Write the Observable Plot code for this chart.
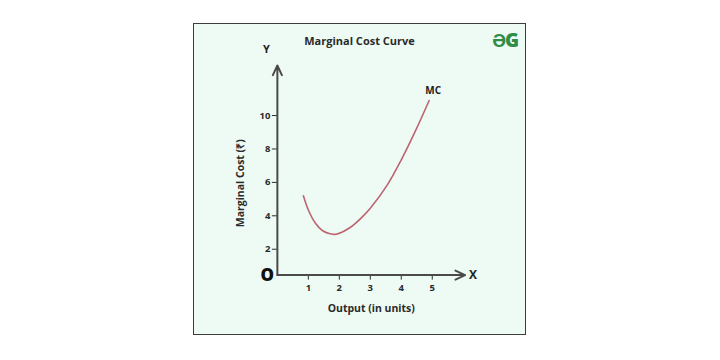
<!DOCTYPE html>
<html>
<head>
<meta charset="utf-8">
<script src="https://cdn.jsdelivr.net/npm/d3@7"></script>
<script src="https://cdn.jsdelivr.net/npm/@observablehq/plot@0.6"></script>
<style>
  html, body { margin: 0; padding: 0; background: #ffffff; }
  body { width: 720px; height: 360px; position: relative; overflow: hidden; font-family: "Open Sans", sans-serif; }
  #box { position: absolute; left: 193px; top: 23px; width: 333px; height: 312px; box-sizing: border-box;
         background: #eefbf5; border: 1.5px solid #3c3c3c; }
  #title { position: absolute; left: 0; right: 0; top: 9px; text-align: center; font-weight: 700; font-size: 11px; color: #2a2a2a; }
  #logo { position: absolute; right: 7px; top: 3px; font-weight: 800; font-size: 19px; color: #2f8d46; letter-spacing: -1px; }
  #chart { position: absolute; left: -1.5px; top: -1.5px; }
</style>
</head>
<body>
<div id="box">
  <div id="chart"></div>
  <div id="title">Marginal Cost Curve</div>
  <div id="logo">ƏG</div>
</div>
<script>
// Data
const output = [0.84, 1.0, 1.23, 1.45, 1.7, 1.9, 2.35, 2.75, 3.0, 3.55, 4.0, 4.45, 4.9];
const marginalCost = [5.2, 4.35, 3.55, 3.12, 2.93, 2.9, 3.3, 3.95, 4.45, 5.85, 7.35, 9.05, 10.9];
const xTicks = [1, 2, 3, 4, 5];
const yTicks = [2, 4, 6, 8, 10];
const xDomain = [0, 6.06];
const yDomain = [0.45, 13];
const seriesLabel = "MC";
const xLabel = "Output (in units)";
const yLabel = "Marginal Cost (₹)";

const curve = output.map((x, i) => ({x, y: marginalCost[i]}));
const last = curve[curve.length - 1];

const axes = [
  {x1: xDomain[0], y1: yDomain[0], x2: xDomain[1], y2: yDomain[0]},
  {x1: xDomain[0], y1: yDomain[0], x2: xDomain[0], y2: yDomain[1]}
];

const chart = Plot.plot({
  width: 333,
  height: 312,
  marginLeft: 84,
  marginRight: 61,
  marginTop: 42,
  marginBottom: 60,
  style: {background: "transparent", fontFamily: "Open Sans, sans-serif", fontWeight: 700, color: "#2a2a2a", fontSize: "9.5px"},
  x: {domain: xDomain, ticks: xTicks, tickSize: 5, tickPadding: 4, label: null, tickFormat: d3.format("d")},
  y: {domain: yDomain, ticks: yTicks, tickSize: 5, tickPadding: 2, label: null, tickFormat: d3.format("d")},
  marks: [
    Plot.arrow(axes, {x1: "x1", y1: "y1", x2: "x2", y2: "y2", stroke: "#4a4a4a", strokeWidth: 2, headLength: 8, headAngle: 50, bend: false}),
    Plot.line(curve, {x: "x", y: "y", curve: "catmull-rom", stroke: "#bd6470", strokeWidth: 1.6}),
    Plot.text([xLabel], {frameAnchor: "bottom", dy: 37, fontSize: 10.5, fontWeight: 700, fill: "#2a2a2a"}),
    Plot.text([yLabel], {frameAnchor: "left", textAnchor: "middle", rotate: -90, dx: -37, dy: 13, fontSize: 10.5, fontWeight: 700, fill: "#2a2a2a"}),
    Plot.text([last], {x: "x", y: "y", text: () => seriesLabel, dx: 4, dy: -10, fontSize: 10, fontWeight: 700, fill: "#222"}),
    Plot.text([{x: xDomain[0], y: yDomain[0]}], {x: "x", y: "y", text: () => "O", dx: -10, dy: 0, fontSize: 17, fontWeight: 800, fill: "#111"}),
    Plot.text([{x: xDomain[1], y: yDomain[0]}], {x: "x", y: "y", text: () => "X", dx: 8, dy: 0, fontSize: 12, fontWeight: 700, fill: "#222"}),
    Plot.text([{x: xDomain[0], y: yDomain[1]}], {x: "x", y: "y", text: () => "Y", dx: -11, dy: -16, fontSize: 11, fontWeight: 700, fill: "#222"})
  ]
});
document.getElementById("chart").appendChild(chart);
</script>
</body>
</html>
